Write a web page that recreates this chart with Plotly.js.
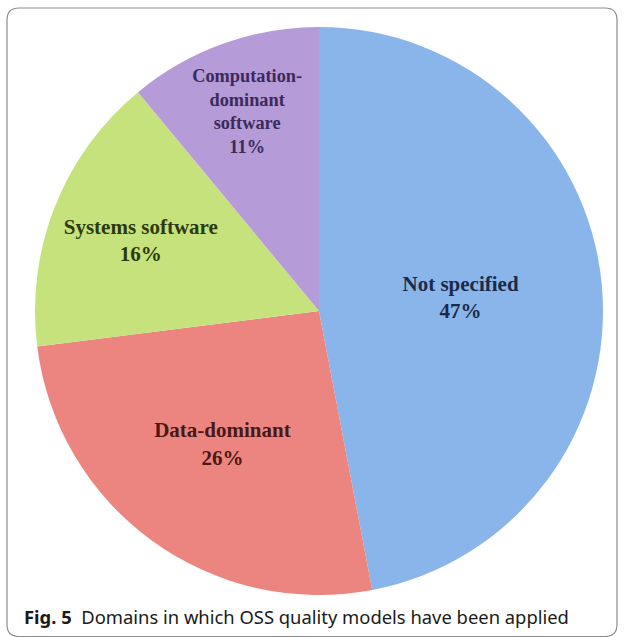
<!DOCTYPE html>
<html>
<head>
<meta charset="utf-8">
<script src="https://cdn.plot.ly/plotly-3.0.1.min.js"></script>
<style>html,body{margin:0;padding:0;background:#fff;}#chart{width:624px;height:637px;}</style>
</head>
<body>
<div id="chart"></div>
<script>
// Data
var labels = ['Not specified', 'Data-dominant', 'Systems software', 'Computation-<br>dominant<br>software'];
var values = [47, 26, 16, 11];
var sliceColors = ['#8ab5eb', '#ec8580', '#c6e27c', '#b59bd8'];
var labelColors = ['#1c2a48', '#4a1818', '#2c3a0e', '#3b2a5a'];
var caption = '<b>Fig. 5</b>  Domains in which OSS quality models have been applied';

var W = 624, H = 637;
function px(x){ return x / W; }
function py(y){ return 1 - y / H; }

var trace = {
  type: 'pie',
  labels: labels,
  values: values,
  sort: false,
  direction: 'clockwise',
  rotation: 0,
  marker: { colors: sliceColors, line: { width: 0 } },
  texttemplate: '%{label}<br>%{percent:.0%}',
  textposition: 'inside',
  insidetextorientation: 'horizontal',
  insidetextfont: { family: 'Liberation Serif', size: 21, color: labelColors, weight: 'bold' },
  hoverinfo: 'none',
  showlegend: false,
  domain: { x: [px(34), px(604)], y: [py(595), py(27)] }
};

var r = 12;
var L = px(7), R = px(617), T = py(8), B = py(636.5);
var dx = r / W, dy = r / H;
var borderPath = 'M ' + L + ',' + (B + dy) +
  ' L ' + L + ',' + (T - dy) +
  ' Q ' + L + ',' + T + ' ' + (L + dx) + ',' + T +
  ' L ' + (R - dx) + ',' + T +
  ' Q ' + R + ',' + T + ' ' + R + ',' + (T - dy) +
  ' L ' + R + ',' + (B + dy) +
  ' Q ' + R + ',' + B + ' ' + (R - dx) + ',' + B +
  ' L ' + (L + dx) + ',' + B +
  ' Q ' + L + ',' + B + ' ' + L + ',' + (B + dy) + ' Z';

var layout = {
  width: W, height: H,
  margin: { l: 0, r: 0, t: 0, b: 0 },
  paper_bgcolor: '#ffffff',
  plot_bgcolor: '#ffffff',
  shapes: [{
    type: 'path', xref: 'paper', yref: 'paper', path: borderPath,
    line: { color: '#8c8c8c', width: 1.2 }, fillcolor: 'rgba(0,0,0,0)'
  }],
  annotations: [{
    xref: 'paper', yref: 'paper', x: px(22), y: py(616),
    xanchor: 'left', yanchor: 'middle', showarrow: false,
    text: caption,
    font: { family: 'Noto Sans', size: 18.4, color: '#1a1a1a' }
  }]
};

Plotly.newPlot('chart', [trace], layout, { displayModeBar: false, staticPlot: true });
</script>
</body>
</html>
